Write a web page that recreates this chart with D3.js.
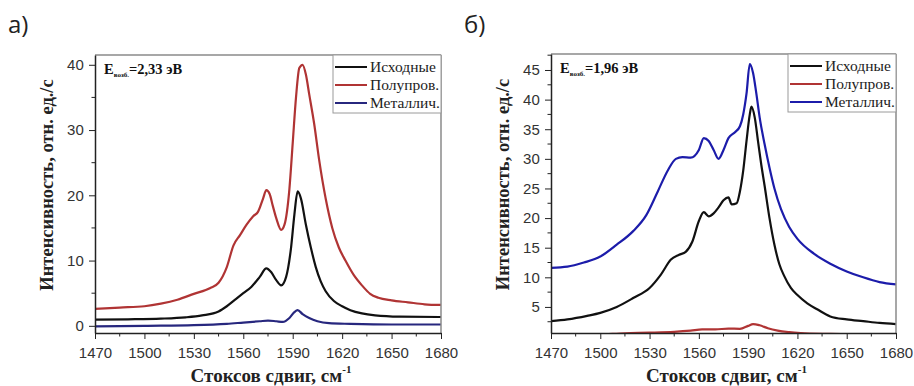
<!DOCTYPE html>
<html>
<head>
<meta charset="utf-8">
<script src="https://cdn.jsdelivr.net/npm/d3@7"></script>
<style>
  body { margin: 0; background: #fff; }
  svg { display: block; }
</style>
</head>
<body>
<svg id="chart" width="914" height="386"></svg>
<script>
// Raman spectra
const xTicks = [1470, 1500, 1530, 1560, 1590, 1620, 1650, 1680];
const legendLabels = ["Исходные", "Полупров.", "Металлич."];

// panel a) 2,33 eV
const aInitial = [[1470,0.95],[1490,1.0],[1510,1.1],[1525,1.3],[1535,1.6],[1545,2.2],[1550,3.0],[1555,4.0],[1560,5.0],[1565,6.0],[1570,7.5],[1574,8.8],[1577,8.2],[1580,7.0],[1583,6.2],[1586,7.5],[1589,12],[1591,17],[1593,20.6],[1595,19.5],[1598,15.5],[1601,12],[1604,9],[1607,6.8],[1610,5.3],[1615,3.8],[1620,3.0],[1625,2.4],[1632,1.9],[1640,1.6],[1655,1.4],[1680,1.35]];
const aSemi = [[1470,2.6],[1485,2.8],[1500,3.0],[1510,3.4],[1520,4.0],[1530,4.9],[1540,5.8],[1545,6.6],[1550,9.0],[1554,12.3],[1558,13.9],[1562,15.5],[1566,16.8],[1569,17.5],[1572,19.5],[1574,20.8],[1576,20.2],[1578,18.3],[1580,16.5],[1583,14.7],[1585,15.5],[1588,21],[1590,28],[1592,35],[1594,39.5],[1596,40],[1598,38.5],[1600,35.5],[1603,31],[1606,25.5],[1610,19.5],[1614,15],[1618,12],[1622,10],[1627,7.8],[1632,6.2],[1637,4.9],[1642,4.3],[1650,3.9],[1660,3.6],[1670,3.3],[1680,3.2]];
const aMetal = [[1470,-0.1],[1500,0.0],[1530,0.1],[1550,0.3],[1560,0.5],[1570,0.7],[1575,0.8],[1580,0.7],[1584,0.6],[1588,1.2],[1591,2.1],[1593,2.4],[1596,1.8],[1600,1.2],[1605,0.7],[1612,0.4],[1625,0.3],[1650,0.2],[1680,0.2]];
const aYTicks = [0, 10, 20, 30, 40];

// panel б) 1,96 eV
const bInitial = [[1470,2.6],[1480,2.9],[1492,3.5],[1500,4.0],[1510,5.0],[1520,6.5],[1530,8.2],[1537,10.5],[1543,13.0],[1548,13.8],[1552,14.3],[1556,16],[1560,19.5],[1563,21],[1566,20.3],[1569,20.8],[1572,21.8],[1575,23],[1578,23.5],[1580,22.3],[1583,22.5],[1585,24.5],[1587,28],[1589,33],[1591,37.5],[1592,38.8],[1594,37],[1596,33],[1598,29],[1600,25.5],[1603,20],[1606,15.5],[1609,12.2],[1612,10.2],[1616,8.2],[1620,7.0],[1626,5.6],[1632,4.6],[1640,3.4],[1650,2.9],[1660,2.6],[1670,2.3],[1680,2.1]];
const bSemi = [[1470,0.2],[1500,0.35],[1515,0.55],[1530,0.65],[1545,0.8],[1555,1.0],[1562,1.2],[1570,1.2],[1578,1.35],[1585,1.3],[1590,1.8],[1593,2.1],[1597,1.9],[1602,1.4],[1608,1.0],[1615,0.75],[1622,0.6],[1640,0.45],[1660,0.35],[1680,0.3]];
const bMetal = [[1470,11.6],[1480,11.8],[1490,12.5],[1500,13.5],[1510,15.5],[1520,17.8],[1528,20.5],[1535,24.5],[1541,28],[1546,30],[1550,30.3],[1555,30.2],[1560,31.5],[1563,33.5],[1566,33],[1569,31.5],[1572,30],[1575,31.5],[1578,33.5],[1582,34.5],[1585,35.5],[1587,37.5],[1589,41],[1591,46],[1593,44.5],[1595,41],[1597,37],[1600,32.5],[1603,28.5],[1606,25],[1610,21.5],[1615,18.5],[1620,16.5],[1630,14],[1640,12.3],[1650,11],[1660,10],[1670,9.2],[1680,8.8]];
const bYTicks = [5, 10, 15, 20, 25, 30, 35, 40, 45];

const svg = d3.select("#chart");
const serif = "'Liberation Serif', 'DejaVu Serif', serif";
const sans = "'Liberation Sans', Arial, sans-serif";

function drawPanel(p) {
  const g = svg.append("g");
  const x = d3.scaleLinear().domain([1470, 1680]).range([p.left, p.right]);
  const y = d3.scaleLinear().domain(p.yDomain).range([p.bottom, p.top]);

  // panel letter
  g.append("text")
    .attr("x", p.left - 87).attr("y", 33)
    .attr("font-family", "'Open Sans', sans-serif")
    .attr("font-size", 24).attr("fill", "#222")
    .text(p.letter);

  // clip for the curves
  const clipId = "clip-" + p.letter.charCodeAt(0);
  g.append("clipPath").attr("id", clipId)
    .append("rect")
    .attr("x", p.left).attr("y", p.top)
    .attr("width", p.right - p.left).attr("height", p.bottom - p.top);

  const line = d3.line()
    .x((d) => x(d[0]))
    .y((d) => y(d[1]))
    .curve(d3.curveMonotoneX);

  const curves = g.append("g").attr("clip-path", `url(#${clipId})`);
  p.series.forEach((s) => {
    curves.append("path")
      .attr("d", line(s.data))
      .attr("fill", "none")
      .attr("stroke", s.color)
      .attr("stroke-width", 2.2)
      .attr("stroke-linejoin", "round");
  });

  // frame: top and right gray
  g.append("line")
    .attr("x1", p.left).attr("x2", p.right)
    .attr("y1", p.top).attr("y2", p.top)
    .attr("stroke", "#8a8a8a").attr("stroke-width", 1.5);
  g.append("line")
    .attr("x1", p.right).attr("x2", p.right)
    .attr("y1", p.top).attr("y2", p.bottom)
    .attr("stroke", "#8a8a8a").attr("stroke-width", 1.5);

  // x axis
  const xAxis = g.append("g").attr("transform", `translate(0,${p.bottom})`);
  xAxis.call(d3.axisBottom(x).tickValues(xTicks).tickSize(6).tickSizeOuter(0).tickFormat(d3.format("d")));
  const xMinor = d3.range(1485, 1680, 30);
  xAxis.selectAll(".minor").data(xMinor).enter().append("line")
    .attr("class", "minor")
    .attr("x1", (d) => x(d)).attr("x2", (d) => x(d))
    .attr("y1", 0).attr("y2", 3.5)
    .attr("stroke", "#222");

  // y axis
  const yAxis = g.append("g").attr("transform", `translate(${p.left},0)`);
  yAxis.call(d3.axisLeft(y).tickValues(p.yTicks).tickSize(6).tickSizeOuter(0));
  yAxis.selectAll(".minor").data(p.yMinor).enter().append("line")
    .attr("class", "minor")
    .attr("x1", 0).attr("x2", -3.5)
    .attr("y1", (d) => y(d)).attr("y2", (d) => y(d))
    .attr("stroke", "#222");

  [xAxis, yAxis].forEach((ax) => {
    ax.select(".domain").attr("stroke", "#222").attr("stroke-width", 1.5);
    ax.selectAll(".tick line").attr("stroke", "#222");
    ax.selectAll(".tick text")
      .attr("font-family", sans).attr("font-size", 15).attr("fill", "#333");
  });
  xAxis.selectAll(".tick text").attr("dy", "1.05em");
  yAxis.selectAll(".tick text").attr("dx", "-0.15em");

  // axis titles
  const xt = g.append("text")
    .attr("x", (p.left + p.right) / 2 + 3).attr("y", 382)
    .attr("text-anchor", "middle")
    .attr("font-family", serif).attr("font-weight", "bold")
    .attr("font-size", 19).attr("fill", "#222");
  xt.append("tspan").text("Стоксов сдвиг, см");
  xt.append("tspan").attr("dy", -9).attr("font-size", 11).text("-1");

  g.append("text")
    .attr("transform", `translate(${p.left - 42},${(p.top + p.bottom) / 2 - 9}) rotate(-90)`)
    .attr("text-anchor", "middle")
    .attr("font-family", serif).attr("font-weight", "bold")
    .attr("font-size", 18.5).attr("fill", "#222")
    .text("Интенсивность, отн. ед./с");

  // excitation energy
  const ann = g.append("text")
    .attr("x", p.left + 9).attr("y", p.top + 19)
    .attr("font-family", serif).attr("font-weight", "bold")
    .attr("font-size", 14.5).attr("fill", "#111");
  ann.append("tspan").text("E");
  ann.append("tspan").attr("dy", 3).attr("font-size", 7).text("возб.");
  ann.append("tspan").attr("dy", -3).text("=" + p.energy + " эВ");

  // legend
  const lx = p.right - 108;
  const lg = g.append("g");
  lg.append("rect")
    .attr("x", lx).attr("y", p.top)
    .attr("width", p.right - lx).attr("height", 58)
    .attr("fill", "#fff").attr("stroke", "#9a9a9a").attr("stroke-width", 1);
  p.series.forEach((s, i) => {
    const ly = p.top + 12 + i * 18;
    lg.append("line")
      .attr("x1", lx + 2).attr("x2", lx + 34)
      .attr("y1", ly).attr("y2", ly)
      .attr("stroke", s.color).attr("stroke-width", 2);
    lg.append("text")
      .attr("x", lx + 37).attr("y", ly + 5)
      .attr("font-family", serif).attr("font-size", 15.5).attr("fill", "#222")
      .text(s.label);
  });
}

drawPanel({
  letter: "а)",
  left: 95, right: 441, top: 55, bottom: 333,
  yDomain: [-1.1, 41.5],
  yTicks: aYTicks,
  yMinor: [5, 15, 25, 35],
  energy: "2,33",
  series: [
    { label: legendLabels[0], data: aInitial, color: "#111111" },
    { label: legendLabels[1], data: aSemi, color: "#b03434" },
    { label: legendLabels[2], data: aMetal, color: "#27277e" },
  ],
});

drawPanel({
  letter: "б)",
  left: 551, right: 896, top: 54, bottom: 333,
  yDomain: [0.6, 47.7],
  yTicks: bYTicks,
  yMinor: [2.5, 7.5, 12.5, 17.5, 22.5, 27.5, 32.5, 37.5, 42.5, 47.5].filter((v) => v < 47.7),
  energy: "1,96",
  series: [
    { label: legendLabels[0], data: bInitial, color: "#111111" },
    { label: legendLabels[1], data: bSemi, color: "#b03434" },
    { label: legendLabels[2], data: bMetal, color: "#1c1caa" },
  ],
});
</script>
</body>
</html>
